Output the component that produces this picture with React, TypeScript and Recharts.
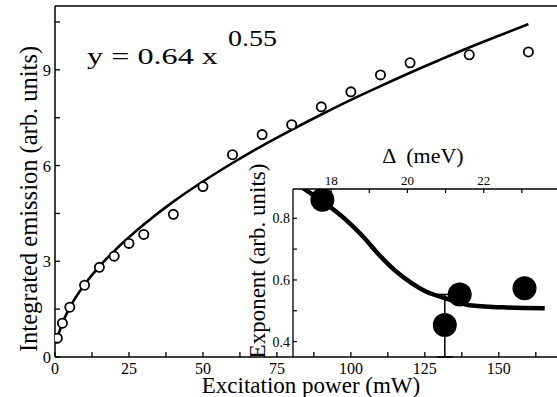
import {
  ComposedChart,
  ErrorBar,
  Line,
  ReferenceLine,
  Scatter,
  XAxis,
  YAxis,
} from "recharts";

// main panel: integrated emission vs excitation power
const powerMW = [0.8, 2.5, 5, 10, 15, 20, 25, 30, 40, 50, 60, 70, 80, 90, 100, 110, 120, 140, 160];
const emission = [0.59, 1.06, 1.56, 2.25, 2.81, 3.16, 3.56, 3.84, 4.47, 5.34, 6.34, 6.97, 7.28, 7.84, 8.31, 8.84, 9.22, 9.47, 9.56];

// fitted power law
const fitPower = [0.7, 1, 2, 5, 10, 15, 20, 30, 40, 50, 60, 70, 80, 90, 100, 110, 120, 130, 140, 150, 160];
const fitEmission = [0.52, 0.64, 0.94, 1.55, 2.27, 2.84, 3.32, 4.15, 4.87, 5.5, 6.08, 6.62, 7.12, 7.6, 8.06, 8.49, 8.91, 9.31, 9.7, 10.07, 10.43];

const powerTicks = [0, 12.5, 25, 37.5, 50, 62.5, 75, 87.5, 100, 112.5, 125, 137.5, 150, 162.5];
const emissionTicks = [0, 1.5, 3, 4.5, 6, 7.5, 9, 10.5];

// inset: exponent vs delta
const deltaMeV = [17.77, 21.37, 23.07];
const exponent = [0.86, 0.553, 0.573];
const errDelta = [20.98];
const errExponent = [0.454];
const errLow = [0.104];
const errHigh = [0.099];

const fitDelta = [17.26, 18.36, 18.81, 19.23, 19.67, 20.12, 20.53, 20.9, 21.16, 21.63, 22.5, 23.6];
const fitExponent = [0.898, 0.798, 0.744, 0.685, 0.631, 0.589, 0.56, 0.544, 0.534, 0.518, 0.511, 0.508];

const deltaTicks = [18, 19, 20, 21, 22, 23];
const exponentTicks = [0.4, 0.5, 0.6, 0.7, 0.8];

const font = "Liberation Serif, Times New Roman, serif";

const mainPoints = powerMW.map((x, i) => ({ x, y: emission[i] }));
const mainFit = fitPower.map((x, i) => ({ x, y: fitEmission[i] }));
const insetPoints = deltaMeV.map((d, i) => ({ d, v: exponent[i] }));
const insetErr = errDelta.map((d, i) => ({ d, v: errExponent[i], err: [errLow[i], errHigh[i]] }));
const insetFit = fitDelta.map((d, i) => ({ d, v: fitExponent[i] }));

const txt = { fontFamily: font };

const BottomTick = (props: any) => {
  const { x, y, payload } = props;
  const major = payload.value % 25 === 0;
  return (
    <g>
      <line x1={x} y1={y} x2={x} y2={y - 5} stroke="#000" strokeWidth={1.3} />
      {major && (
        <text x={x} y={y + 17} textAnchor="middle" fontSize={16} style={txt} fill="#000">
          {payload.value}
        </text>
      )}
    </g>
  );
};

const LeftTick = (props: any) => {
  const { x, y, payload } = props;
  const major = payload.value % 3 === 0;
  return (
    <g>
      <line x1={x} y1={y} x2={x + 5} y2={y} stroke="#000" strokeWidth={1.3} />
      {major && (
        <text x={x - 4} y={y + 6} textAnchor="end" fontSize={16.5} style={txt} fill="#000">
          {payload.value}
        </text>
      )}
    </g>
  );
};

const TopTick = (props: any) => {
  const { x, y, payload } = props;
  const major = payload.value % 2 === 0;
  return (
    <g>
      <line x1={x} y1={y} x2={x} y2={y + 4} stroke="#000" strokeWidth={1.2} />
      {major && (
        <text x={x} y={y - 4} textAnchor="middle" fontSize={13} style={txt} fill="#000">
          {payload.value}
        </text>
      )}
    </g>
  );
};

const InsetLeftTick = (props: any) => {
  const { x, y, payload } = props;
  const major = Math.round(payload.value * 10) % 2 === 0;
  return (
    <g>
      <line x1={x} y1={y} x2={x + 4} y2={y} stroke="#000" strokeWidth={1.2} />
      {major && (
        <text x={x - 3} y={y + 5} textAnchor="end" fontSize={14} style={txt} fill="#000">
          {payload.value.toFixed(1)}
        </text>
      )}
    </g>
  );
};

const OpenCircle = (props: any) => (
  <circle cx={props.cx} cy={props.cy} r={4.6} fill="#fff" stroke="#000" strokeWidth={1.8} />
);

const BigDot = (props: any) => <circle cx={props.cx} cy={props.cy} r={12} fill="#000" />;

export default function App() {
  return (
    <div
      style={{
        position: "absolute",
        left: 0,
        top: 0,
        width: 557,
        height: 397,
        overflow: "hidden",
        background: "#fff",
      }}
    >
      <div style={{ position: "absolute", left: 0, top: 0 }}>
        <ComposedChart width={570} height={397} margin={{ top: 6, right: 12, bottom: 0, left: 0 }}>
          <XAxis
            type="number"
            dataKey="x"
            domain={[0, 170]}
            ticks={powerTicks}
            interval={0}
            height={40}
            tickSize={0}
            tickMargin={0}
            tick={<BottomTick />}
            axisLine={{ stroke: "#000", strokeWidth: 1.5 }}
            allowDataOverflow
          />
          <YAxis
            type="number"
            dataKey="y"
            domain={[0, 11]}
            ticks={emissionTicks}
            interval={0}
            width={55}
            tickSize={0}
            tickMargin={0}
            tick={<LeftTick />}
            axisLine={{ stroke: "#000", strokeWidth: 1.5 }}
            allowDataOverflow
          />
          <ReferenceLine y={11} stroke="#000" strokeWidth={1.5} />
          <Line
            data={mainFit}
            dataKey="y"
            type="monotone"
            stroke="#000"
            strokeWidth={2.6}
            dot={false}
            isAnimationActive={false}
          />
          <Scatter data={mainPoints} dataKey="y" shape={<OpenCircle />} isAnimationActive={false} />
        </ComposedChart>
      </div>

      <div style={{ position: "absolute", left: 0, top: 0 }}>
        <ComposedChart width={570} height={397} margin={{ top: 159, right: 10, bottom: 40, left: 253 }}>
          <XAxis
            type="number"
            dataKey="d"
            orientation="top"
            domain={[17, 24]}
            ticks={deltaTicks}
            interval={0}
            height={30}
            tickSize={0}
            tickMargin={0}
            tick={<TopTick />}
            axisLine={{ stroke: "#000", strokeWidth: 1.3 }}
            allowDataOverflow
          />
          <YAxis
            type="number"
            dataKey="v"
            domain={[0.35, 0.895]}
            ticks={exponentTicks}
            interval={0}
            width={40}
            tickSize={0}
            tickMargin={0}
            tick={<InsetLeftTick />}
            axisLine={{ stroke: "#000", strokeWidth: 1.3 }}
            allowDataOverflow
          />
          <Line
            data={insetFit}
            dataKey="v"
            type="monotone"
            stroke="#000"
            strokeWidth={4.5}
            dot={false}
            isAnimationActive={false}
          />
          <Scatter data={insetErr} dataKey="v" shape={<BigDot />} isAnimationActive={false}>
            <ErrorBar dataKey="err" direction="y" width={8} stroke="#000" strokeWidth={1.5} />
          </Scatter>
          <Scatter data={insetPoints} dataKey="v" shape={<BigDot />} isAnimationActive={false} />
        </ComposedChart>
      </div>

      <svg
        width={557}
        height={397}
        style={{ position: "absolute", left: 0, top: 0, pointerEvents: "none", fontFamily: font }}
      >
        <text x={87} y={64} fontSize={24} textLength={131} lengthAdjust="spacingAndGlyphs">
          y = 0.64 x
        </text>
        <text x={228} y={46} fontSize={24} textLength={49} lengthAdjust="spacingAndGlyphs">
          0.55
        </text>
        <text x={311} y={393} fontSize={23} textAnchor="middle">
          Excitation power (mW)
        </text>
        <text x={37} y={199} fontSize={24.5} textAnchor="middle" transform="rotate(-90 37 199)">
          Integrated emission (arb. units)
        </text>
        <text x={265} y={261} fontSize={23} textAnchor="middle" transform="rotate(-90 265 261)">
          Exponent (arb. units)
        </text>
        <text x={423} y={163} fontSize={22} textAnchor="middle" style={{ whiteSpace: "pre" }}>
          Δ  (meV)
        </text>
      </svg>
    </div>
  );
}
